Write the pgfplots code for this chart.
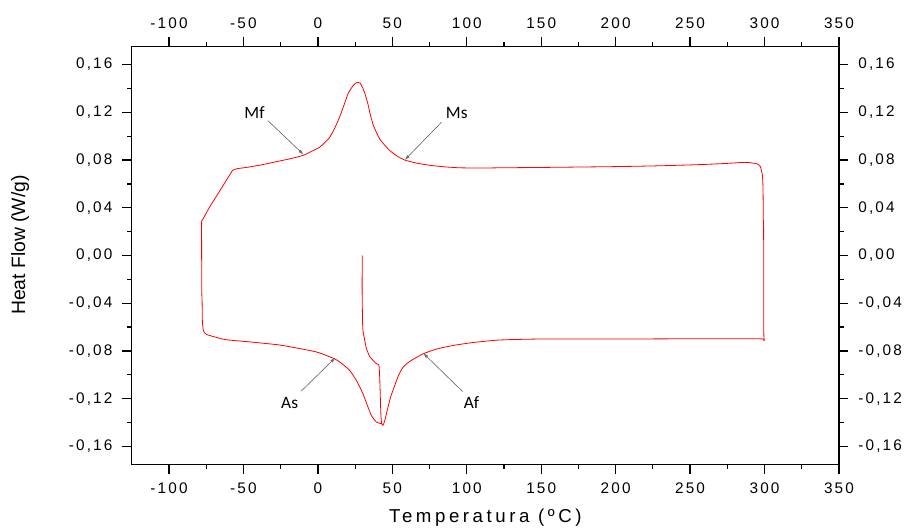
\documentclass[border=0pt]{standalone}
\usepackage{fontspec}
\setmainfont{Liberation Sans}
\newfontfamily\tickfont[LetterSpace=14]{Liberation Sans}
\newfontfamily\labfont[LetterSpace=19]{Liberation Sans}
\newfontfamily\annfont{Carlito}
\usepackage{pgfplots}
\pgfplotsset{compat=1.18}
\usetikzlibrary{arrows.meta}

\pgfplotsset{dscframe/.style={
  scale only axis, width=530pt, height=313pt,
  xmin=-125, xmax=350, ymin=-0.175, ymax=0.175,
  xtick={-100,-50,0,50,100,150,200,250,300,350}, minor x tick num=1,
  ytick={-0.16,-0.12,-0.08,-0.04,0,0.04,0.08,0.12,0.16}, minor y tick num=1,
  tick align=outside, major tick length=7pt, minor tick length=3.5pt,
  axis line style={line width=1pt},
  tick style={black, line width=0.9pt},
  scaled x ticks=false, scaled y ticks=false,
  /pgf/number format/assume math mode=true,
  tick label style={font=\tickfont\fontsize{11.5}{13}\selectfont},
  yticklabel style={/pgf/number format/fixed, /pgf/number format/fixed zerofill,
    /pgf/number format/precision=2, /pgf/number format/use comma},
}}

\begin{document}
\begin{tikzpicture}
\begin{axis}[dscframe, name=main,
  xticklabel style={yshift=-3pt},
  yticklabel style={xshift=-4pt},
  xlabel={Temperatura (ºC)},
  xlabel style={font=\labfont\fontsize{14}{16}\selectfont, at={(axis description cs:0.5,-0.127)}, anchor=center},
  ylabel={Heat Flow (W/g)},
  ylabel style={font=\fontsize{14.5}{16}\selectfont, at={(axis description cs:-0.158,0.525)}, rotate=0, anchor=center},
]
\addplot[red, line width=0.6pt, mark=none, smooth, tension=0.35] coordinates {
(29.8,0.000) (29.7,-0.030) (30.1,-0.060) (31.0,-0.068) (32.6,-0.078) (35.0,-0.085)
(39.3,-0.0907) (41.0,-0.092) (41.6,-0.105) (42.2,-0.130) (42.7,-0.140) (43.7,-0.1424)
(45.0,-0.138) (47.1,-0.127) (49.0,-0.118) (51.6,-0.109) (54.0,-0.101) (57.2,-0.0936)
(62.0,-0.0885) (70.7,-0.0824) (80.0,-0.0783) (90.8,-0.0754) (105,-0.0728) (122.3,-0.0708)
(150,-0.0700) (200,-0.0700) (250,-0.0698) (297,-0.0698) (299.5,-0.0712)
(299.5,-0.060) (299.4,0.020) (299.2,0.030) (299.0,0.055) (298.6,0.067) (297.2,0.0745)
(295,0.0768) (290,0.0778) (285,0.0780) (275,0.0772) (257,0.0762) (230,0.0752)
(200,0.0745) (150,0.0738) (122,0.0735) (110,0.0733) (95.4,0.0735) (85,0.0743)
(75.2,0.0756) (66,0.0775) (58.3,0.080) (53,0.0835) (48.2,0.088) (44.5,0.093)
(41.5,0.0977) (39,0.104) (37,0.110) (35,0.119) (33.6,0.127) (31.5,0.136)
(29.9,0.141) (28.5,0.1443) (26.9,0.1452) (24.7,0.1438) (22.3,0.140) (20.2,0.1355)
(17.5,0.126) (14.6,0.116) (11,0.106) (7.9,0.099) (4.5,0.0945) (1.1,0.0907)
(-4,0.0875) (-10.1,0.0838) (-19,0.081) (-28,0.0786) (-37,0.0762) (-47,0.0740)
(-54,0.0728) (-57.2,0.0715) (-58.5,0.069) (-62,0.062) (-68,0.050) (-73,0.040)
(-77.4,0.030) (-78.1,0.028) (-78.1,0.000) (-78.0,-0.030) (-77.8,-0.038) (-77.6,-0.055)
(-76.9,-0.063) (-75.1,-0.066) (-70,-0.068) (-61.6,-0.0706) (-45,-0.0725) (-25.8,-0.0750)
(-10.1,-0.0785) (0,-0.0812) (11.2,-0.0866) (16,-0.0905) (21.3,-0.0963) (26,-0.105)
(30.3,-0.116) (33,-0.125) (35.9,-0.134) (39.3,-0.1396) (42.7,-0.141)
};
% annotations
\begin{scope}[gray!85!black, line width=0.5pt, -{Latex[length=4pt,width=2.5pt]}]
\draw (axis cs:-33.6,0.113) -- (axis cs:-9.6,0.0846);
\draw (axis cs:83,0.1117) -- (axis cs:58.3,0.080);
\draw (axis cs:-11.2,-0.1137) -- (axis cs:11.7,-0.0857);
\draw (axis cs:97.2,-0.114) -- (axis cs:70.7,-0.0818);
\end{scope}
\begin{scope}[font=\annfont\fontsize{13}{15}\selectfont]
\node at (axis cs:-42.6,0.120) {Mf};
\node at (axis cs:93.3,0.1198) {Ms};
\node at (axis cs:-19.0,-0.124) {As};
\node at (axis cs:103.2,-0.123) {Af};
\end{scope}
\end{axis}
\begin{axis}[dscframe,
  xticklabel pos=upper, yticklabel pos=right,
  tick style={draw=none},
  xticklabel style={yshift=3pt},
  yticklabel style={xshift=4pt},
]
\end{axis}
\path ([xshift=-98.8pt,yshift=-47.25pt]main.south west) rectangle ([xshift=51pt,yshift=35pt]main.north east);
\end{tikzpicture}
\end{document}
